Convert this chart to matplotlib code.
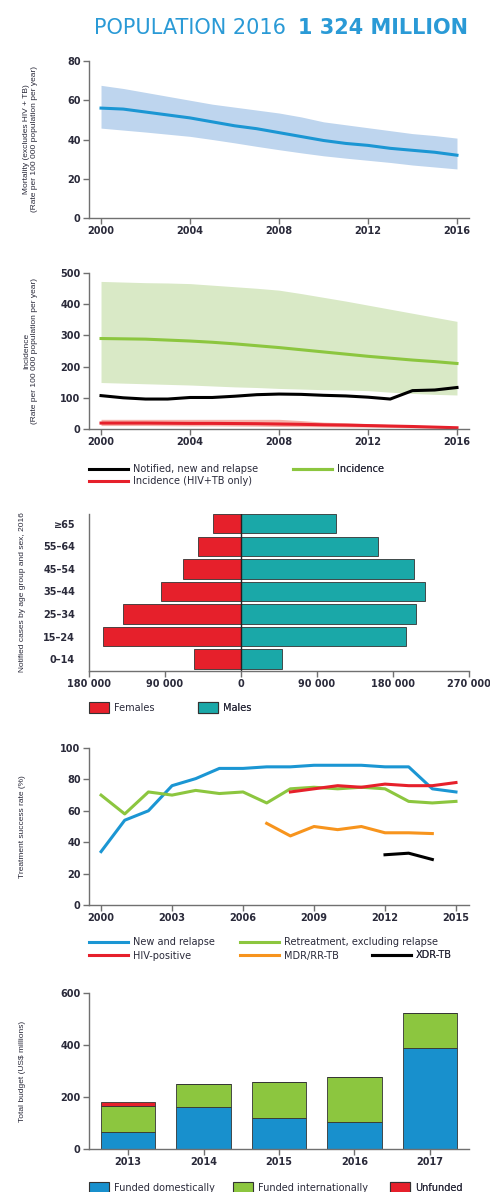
import matplotlib
matplotlib.use("Agg")
import matplotlib.pyplot as plt
import matplotlib.ticker as mticker
from matplotlib.patches import Patch
import numpy as np

# ---- data ----
years = list(range(2000, 2017))

mort = [56, 55.5, 54, 52.5, 51, 49, 47, 45.5, 43.5, 41.5, 39.5, 38, 37, 35.5, 34.5, 33.5, 32]
mort_hi = [67.6, 66, 64, 62, 60, 58, 56.5, 55, 53.5, 51.5, 49, 47.5, 46, 44.5, 43, 42, 40.7]
mort_lo = [45.8, 44.8, 43.8, 42.7, 41.6, 40, 38.3, 36.5, 34.8, 33.2, 31.7, 30.5, 29.4, 28.3, 27, 26, 25]

inc = [290, 289, 288, 285, 282, 278, 273, 267, 261, 254, 247, 240, 233, 227, 221, 216, 210]
inc_hi = [473, 471, 469, 468, 466, 461, 456, 451, 445, 434, 422, 410, 397, 384, 371, 358, 345]
inc_lo = [149, 147, 145, 143, 141, 138, 135, 133, 130, 128, 126, 125, 123, 118, 114, 111, 109]
notified = [107, 100, 96, 96, 101, 101, 105, 110, 112, 111, 108, 106, 102, 96, 123, 125, 133]
hiv_inc = [19, 19, 19, 18.5, 18, 18, 17.5, 17, 16, 15, 13.5, 12.5, 11, 9.5, 8, 6, 4]
hiv_hi = [31, 31, 31, 31, 31, 31, 31, 31, 31, 27, 22, 20, 17, 14, 12, 10, 7]
hiv_lo = [11, 11, 11, 10.5, 10, 10, 9.5, 9, 8, 7.5, 7, 6.5, 6, 5, 4, 3, 2]

age_groups = ["0–14", "15–24", "25–34", "35–44", "45–54", "55–64", "≥65"]
females = [55700, 163400, 139700, 94700, 68700, 50900, 33000]
males = [48600, 195400, 207200, 217900, 204900, 162200, 112500]

ts_years = list(range(2000, 2016))
new_relapse = [34, 54, 60, 76, 80.5, 87, 87, 88, 88, 89, 89, 89, 88, 88, 74, 72]
retreat = [70, 58, 72, 70, 73, 71, 72, 65, 74, 75, 74, 75, 74, 66, 65, 66]
hiv_years = list(range(2008, 2016))
hiv_pos = [72, 74, 76, 75, 77, 76, 76, 78]
mdr_years = list(range(2007, 2015))
mdr = [52, 44, 50, 48, 50, 46, 46, 45.5]
xdr_years = [2012, 2013, 2014]
xdr = [32, 33, 29]

budget_years = ["2013", "2014", "2015", "2016", "2017"]
domestic = [65, 163, 119, 103, 387]
international = [102, 87, 140, 175, 138]
unfunded = [13, 1, 0, 0, 0]

# colours
BLUE = "#1b96d3"
BLUE_BAND = "#bed5ee"
GREEN = "#8cc63f"
GREEN_BAND = "#d9e9c6"
RED = "#e6202b"
RED_BAND = "#f4b3aa"
ORANGE = "#f7941d"
TEAL = "#1aa8a8"
BAR_BLUE = "#1890cd"
TXT = "#2a2a3a"

W, H = 490, 1192
fig = plt.figure(figsize=(W / 100, H / 100), dpi=100)
fig.patch.set_facecolor("white")


def box(top, bottom, left=89, right=469):
    # pixel box -> figure fraction
    return [left / W, 1 - bottom / H, (right - left) / W, (bottom - top) / H]


def style(ax):
    for s in ["top", "right"]:
        ax.spines[s].set_visible(False)
    for s in ["left", "bottom"]:
        ax.spines[s].set_color("#707070")
        ax.spines[s].set_linewidth(1.0)
    ax.tick_params(length=4, width=1, color="#707070", labelsize=7, labelcolor=TXT, pad=2)
    for lab in ax.get_xticklabels() + ax.get_yticklabels():
        lab.set_fontweight("bold")


def ylab(ax, text, x=-0.165):
    ax.set_ylabel(text, fontsize=6, color=TXT, family="Liberation Sans", linespacing=1.15)
    ax.yaxis.set_label_coords(x, 0.5)


def leg(ax, handles, labels, x, y, **kw):
    l = ax.legend(handles, labels, loc="upper left", bbox_to_anchor=(x / W, 1 - y / H),
                  bbox_transform=fig.transFigure, frameon=False, fontsize=7,
                  borderpad=0, borderaxespad=0, handletextpad=0.5, **kw)
    for t in l.get_texts():
        t.set_color(TXT)
    ax.add_artist(l)
    return l


space_fmt = mticker.FuncFormatter(lambda v, p: f"{abs(int(v)):,}".replace(",", " "))

# title
fig.text(94 / W, 1 - 34 / H, "POPULATION 2016", fontsize=15, color="#2a9ad6", ha="left", va="baseline")
fig.text(468 / W, 1 - 34 / H, "1 324 MILLION", fontsize=15, color="#2a9ad6", ha="right",
         va="baseline", fontweight="bold")

# ---- panel 1: mortality ----
ax1 = fig.add_axes(box(61, 218))
ax1.fill_between(years, mort_lo, mort_hi, color=BLUE_BAND, lw=0)
ax1.plot(years, mort, color=BLUE, lw=2.2)
ax1.set_xlim(1999.46, 2016.54)
ax1.set_ylim(0, 80)
ax1.set_xticks([2000, 2004, 2008, 2012, 2016])
ax1.set_yticks([0, 20, 40, 60, 80])
style(ax1)
ylab(ax1, "Mortality (excludes HIV + TB)\n(Rate per 100 000 population per year)", x=-0.135)

# ---- panel 2: incidence ----
ax2 = fig.add_axes(box(273, 429))
ax2.fill_between(years, inc_lo, inc_hi, color=GREEN_BAND, lw=0)
ax2.fill_between(years, hiv_lo, hiv_hi, color=RED_BAND, lw=0)
l_inc, = ax2.plot(years, inc, color=GREEN, lw=2.2)
l_not, = ax2.plot(years, notified, color="black", lw=2.2)
l_hiv, = ax2.plot(years, hiv_inc, color=RED, lw=2.2)
ax2.set_xlim(1999.46, 2016.54)
ax2.set_ylim(0, 500)
ax2.set_xticks([2000, 2004, 2008, 2012, 2016])
ax2.set_yticks([0, 100, 200, 300, 400, 500])
style(ax2)
ylab(ax2, "Incidence\n(Rate per 100 000 population per year)", x=-0.135)
leg(ax2, [l_not, l_hiv], ["Notified, new and relapse", "Incidence (HIV+TB only)"], 89, 464,
    handlelength=4, labelspacing=0.2)
leg(ax2, [l_inc], ["Incidence"], 293, 464, handlelength=4)

# ---- panel 3: age/sex pyramid ----
ax3 = fig.add_axes(box(514, 671))
pos = np.arange(len(age_groups))
ax3.barh(pos, [-f for f in females], height=0.85, color=RED, edgecolor="#333333", lw=0.6)
ax3.barh(pos, males, height=0.85, color=TEAL, edgecolor="#333333", lw=0.6)
ax3.axvline(0, color="#222222", lw=1)
ax3.set_xlim(-180000, 270000)
ax3.set_ylim(-0.53, 6.44)
ax3.set_xticks([-180000, -90000, 0, 90000, 180000, 270000])
ax3.xaxis.set_major_formatter(space_fmt)
ax3.set_yticks(pos)
ax3.set_yticklabels(age_groups)
style(ax3)
ax3.tick_params(axis="y", length=0, pad=10)
ylab(ax3, "Notified cases by age group and sex, 2016")
leg(ax3, [Patch(facecolor=RED, edgecolor="#333333", lw=0.8)], ["Females"], 89, 702,
    handlelength=2.1, handleheight=1.3)
leg(ax3, [Patch(facecolor=TEAL, edgecolor="#333333", lw=0.8)], ["Males"], 198, 702,
    handlelength=2.1, handleheight=1.3)

# ---- panel 4: treatment success ----
ax4 = fig.add_axes(box(748, 905))
h_new, = ax4.plot(ts_years, new_relapse, color=BLUE, lw=2.2)
h_ret, = ax4.plot(ts_years, retreat, color=GREEN, lw=2.2)
h_hiv, = ax4.plot(hiv_years, hiv_pos, color=RED, lw=2.2)
h_mdr, = ax4.plot(mdr_years, mdr, color=ORANGE, lw=2.2)
h_xdr, = ax4.plot(xdr_years, xdr, color="black", lw=2.2)
ax4.set_xlim(1999.49, 2015.55)
ax4.set_ylim(0, 100)
ax4.set_xticks([2000, 2003, 2006, 2009, 2012, 2015])
ax4.set_yticks([0, 20, 40, 60, 80, 100])
style(ax4)
ylab(ax4, "Treatment success rate (%)")
leg(ax4, [h_new, h_hiv], ["New and relapse", "HIV-positive"], 89, 937, handlelength=4, labelspacing=0.4)
leg(ax4, [h_ret, h_mdr], ["Retreatment, excluding relapse", "MDR/RR-TB"], 240, 937,
    handlelength=4, labelspacing=0.4)
leg(ax4, [h_xdr], ["XDR-TB"], 372, 950, handlelength=4)

# ---- panel 5: budget ----
ax5 = fig.add_axes(box(993, 1149))
bx = np.arange(len(budget_years))
ax5.bar(bx, domestic, width=0.72, color=BAR_BLUE, edgecolor="#333333", lw=0.6)
ax5.bar(bx, international, width=0.72, bottom=domestic, color=GREEN, edgecolor="#333333", lw=0.6)
ax5.bar(bx, unfunded, width=0.72, bottom=np.add(domestic, international), color=RED,
        edgecolor="#333333", lw=0.6)
ax5.set_xlim(-0.52, 4.52)
ax5.set_ylim(0, 600)
ax5.set_xticks(bx)
ax5.set_xticklabels(budget_years)
ax5.set_yticks([0, 200, 400, 600])
style(ax5)
ylab(ax5, "Total budget (US$ millions)")
leg(ax5, [Patch(facecolor=BAR_BLUE, edgecolor="#333333", lw=0.8)], ["Funded domestically"], 89, 1182,
    handlelength=2.1, handleheight=1.3)
leg(ax5, [Patch(facecolor=GREEN, edgecolor="#333333", lw=0.8)], ["Funded internationally"], 233, 1182,
    handlelength=2.1, handleheight=1.3)
leg(ax5, [Patch(facecolor=RED, edgecolor="#333333", lw=0.8)], ["Unfunded"], 390, 1182,
    handlelength=2.1, handleheight=1.3)

fig.savefig("out.png", dpi=100, facecolor="white")
